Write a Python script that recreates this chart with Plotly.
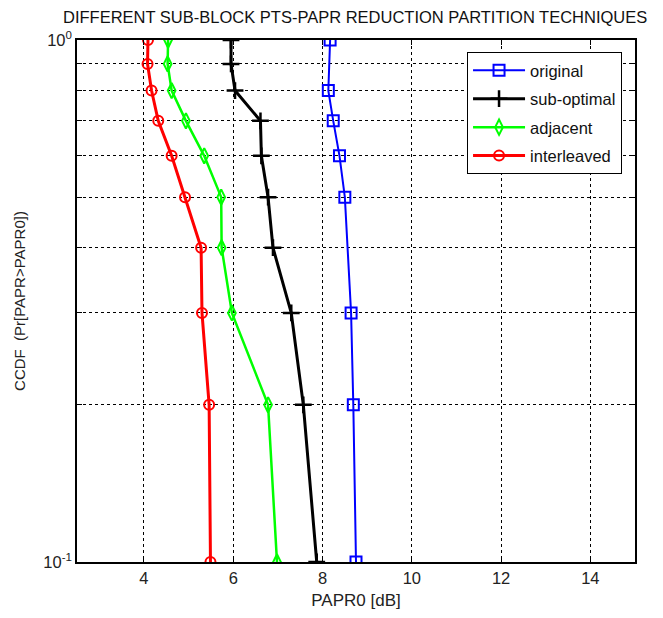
import plotly.graph_objects as go

# CCDF levels (y) and PAPR0 values (x)
ccdf_all = [1.0, 0.9, 0.8, 0.7, 0.6, 0.5, 0.4, 0.3, 0.2, 0.1]
ccdf_original = [1.0, 0.8, 0.7, 0.6, 0.5, 0.3, 0.2, 0.1]

papr_original = [8.17, 8.13, 8.24, 8.38, 8.50, 8.64, 8.69, 8.75]
papr_suboptimal = [5.95, 5.95, 6.04, 6.61, 6.63, 6.78, 6.89, 7.30, 7.57, 7.87]
papr_adjacent = [4.54, 4.53, 4.62, 4.94, 5.35, 5.73, 5.74, 5.97, 6.78, 6.98]
papr_interleaved = [4.09, 4.08, 4.17, 4.32, 4.62, 4.92, 5.28, 5.30, 5.46, 5.49]

x_ticks = [4, 6, 8, 10, 12, 14]
y_major = [0.1, 1.0]
y_major_text = ["10<sup>-1</sup>", "10<sup>0</sup>"]
y_minor = [0.2, 0.3, 0.4, 0.5, 0.6, 0.7, 0.8, 0.9]

fig = go.Figure()
fig.add_trace(go.Scatter(
    x=papr_original, y=ccdf_original, name="original", mode="lines+markers",
    legendgroup="a",
    line=dict(color="#0000ff", width=2),
    marker=dict(symbol="square-open", size=11, color="#0000ff", line=dict(width=2, color="#0000ff"))))
fig.add_trace(go.Scatter(
    x=papr_suboptimal, y=ccdf_all, name="sub-optimal", mode="lines+markers",
    legendgroup="b",
    line=dict(color="#000000", width=3),
    marker=dict(symbol="cross-thin-open", size=12, color="#000000", line=dict(width=2.5, color="#000000"))))
fig.add_trace(go.Scatter(
    x=papr_adjacent, y=ccdf_all, name="adjacent", mode="lines+markers",
    legendgroup="c",
    line=dict(color="#00ff00", width=2.5),
    marker=dict(symbol="diamond-tall-open", size=11, color="#00ff00", line=dict(width=2, color="#00ff00"))))
fig.add_trace(go.Scatter(
    x=papr_interleaved, y=ccdf_all, name="interleaved", mode="lines+markers",
    legendgroup="d",
    line=dict(color="#ff0000", width=3),
    marker=dict(symbol="circle-open", size=10, color="#ff0000", line=dict(width=2, color="#ff0000"))))

font_family = "Liberation Sans, Arial, sans-serif"

# page body has an 8px margin; compensate so the plot area sits where the reference has it
fig.update_layout(
    width=655, height=610,
    margin=dict(l=69, r=28, t=32, b=56),
    paper_bgcolor="white", plot_bgcolor="white",
    font=dict(family=font_family, size=15, color="#222222"),
    title=dict(text="DIFFERENT SUB-BLOCK PTS-PAPR REDUCTION PARTITION TECHNIQUES",
               x=0.53, xanchor="center", y=0.995, yanchor="top",
               font=dict(family=font_family, size=16.5, color="#111111")),
    showlegend=True,
    legend=dict(x=0.699, y=0.977, xanchor="left", yanchor="top",
                bgcolor="white", bordercolor="#000000", borderwidth=1,
                font=dict(family=font_family, size=16.5, color="#111111"),
                itemwidth=52, tracegroupgap=4),
)

fig.update_xaxes(
    range=[2.5, 15], tickvals=x_ticks, ticks="inside", ticklen=5,
    tickcolor="black", showline=True, linecolor="black", linewidth=1.5, mirror="ticks",
    showgrid=True, gridcolor="#000000", griddash="dot", gridwidth=1, zeroline=False,
    title=dict(text="PAPR0 [dB]", standoff=9, font=dict(size=17)),
    tickfont=dict(size=16.5),
)
fig.update_yaxes(
    type="log", range=[-1, 0], tickvals=y_major, ticktext=y_major_text,
    ticks="inside", ticklen=5, tickcolor="black",
    showline=True, linecolor="black", linewidth=1.5, mirror="ticks",
    showgrid=True, gridcolor="#000000", griddash="dot", gridwidth=1, zeroline=False,
    minor=dict(tickvals=y_minor, ticks="inside", ticklen=5, tickcolor="black",
               showgrid=True, gridcolor="#000000", griddash="dot", gridwidth=1),
    title=dict(text="CCDF  (Pr[PAPR>PAPR0])", standoff=14, font=dict(size=15)),
    tickfont=dict(size=16.5),
)

fig.write_html("out.html")
